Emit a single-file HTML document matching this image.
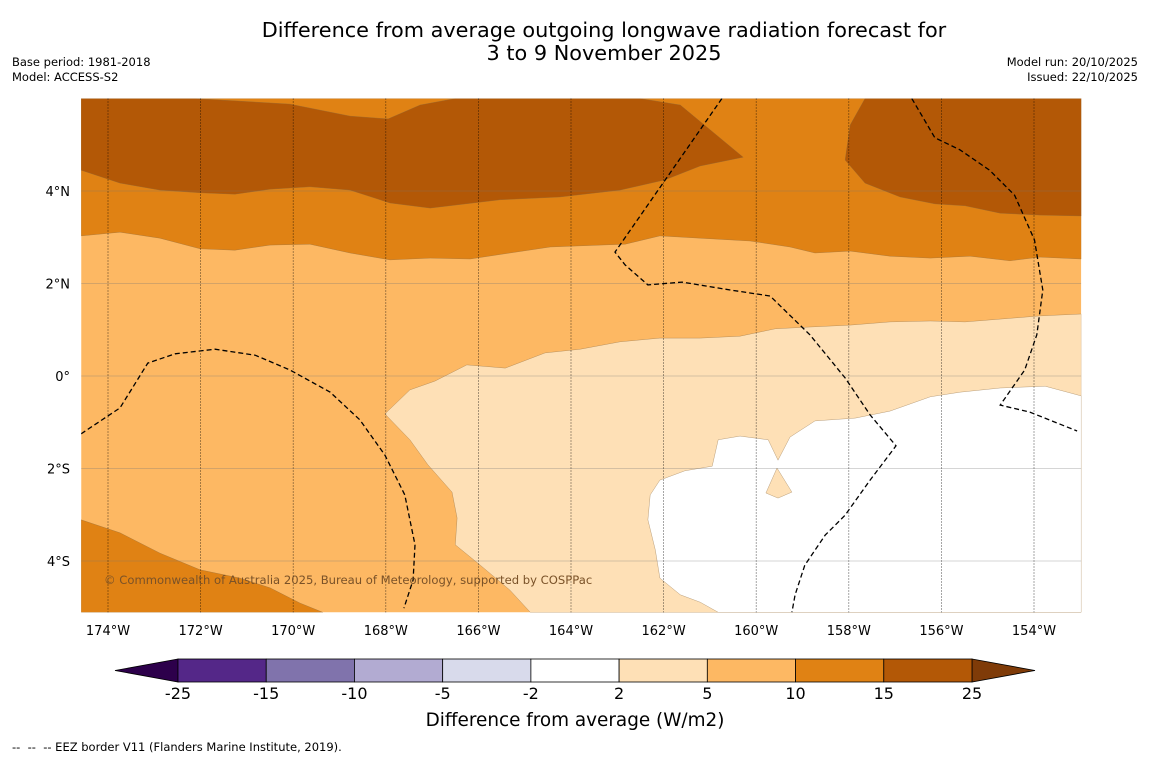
<!DOCTYPE html>
<html><head><meta charset="utf-8">
<style>
html,body{margin:0;padding:0;background:#fff;}
body{width:1150px;height:758px;position:relative;font-family:"Liberation Sans","DejaVu Sans",sans-serif;overflow:hidden;}
.t{position:absolute;color:#000;}
</style></head>
<body>
<div class="t" style="left:0;width:1208px;top:19px;text-align:center;font-size:20.8px;line-height:23px;font-family:'DejaVu Sans','Liberation Sans',sans-serif;">Difference from average outgoing longwave radiation forecast for<br>3 to 9 November 2025</div>
<div class="t" style="left:12px;top:55px;font-size:11.5px;line-height:15px;font-family:'DejaVu Sans',sans-serif;">Base period: 1981-2018<br>Model: ACCESS-S2</div>
<div class="t" style="right:12px;top:55px;font-size:11.5px;line-height:15px;text-align:right;font-family:'DejaVu Sans',sans-serif;">Model run: 20/10/2025<br>Issued: 22/10/2025</div>
<svg id="chart" width="1150" height="758" style="position:absolute;left:0;top:0;" xmlns="http://www.w3.org/2000/svg" font-family="DejaVu Sans, Liberation Sans, sans-serif"></svg>
<div class="t" style="left:12px;top:740px;font-size:11.5px;font-family:'DejaVu Sans',sans-serif;">--&nbsp; --&nbsp; -- EEZ border V11 (Flanders Marine Institute, 2019).</div>
<script>
const lonTicks=[-174,-172,-170,-168,-166,-164,-162,-160,-158,-156,-154];
const lonLabels=["174°W","172°W","170°W","168°W","166°W","164°W","162°W","160°W","158°W","156°W","154°W"];
const latTicks=[4,2,0,-2,-4];
const latLabels=["4°N","2°N","0°","2°S","4°S"];
const cbBounds=[-25,-15,-10,-5,-2,2,5,10,15,25];
const cbColors=["#542788","#8073ac","#b2abd2","#d8daeb","#ffffff","#fee0b6","#fdb863","#e08214","#b35806"];
const LON0=-174.58,LON1=-152.98,LAT0=-5.11,LAT1=6.0;
const orangeBand=[[-174.58,6.0],[-152.98,6.0],[-152.98,2.53],[-153.87,2.57],[-154.52,2.49],[-155.38,2.59],[-156.24,2.55],[-157.11,2.59],[-157.97,2.70],[-158.73,2.66],[-159.27,2.79],[-160.13,2.92],[-161.21,2.98],[-162.08,3.03],[-162.83,2.85],[-163.37,2.83],[-164.45,2.79],[-165.32,2.66],[-166.18,2.53],[-167.04,2.55],[-167.91,2.51],[-168.77,2.66],[-169.64,2.85],[-170.50,2.83],[-171.26,2.72],[-172.01,2.75],[-172.88,2.98],[-173.74,3.11],[-174.58,3.03]];
const darkLeft=[[-174.58,6.0],[-172.12,6.0],[-170.07,5.88],[-168.77,5.62],[-167.95,5.56],[-167.26,5.86],[-166.50,6.0],[-162.51,6.0],[-161.64,5.86],[-160.28,4.73],[-161.21,4.54],[-161.97,4.24],[-162.94,4.02],[-164.24,3.87],[-165.53,3.81],[-167.04,3.63],[-167.91,3.74],[-168.77,4.02],[-169.64,4.09],[-170.50,4.04],[-171.26,3.93],[-172.01,3.96],[-172.88,4.02],[-173.74,4.17],[-174.58,4.45]];
const darkRight=[[-157.65,6.0],[-157.97,5.43],[-158.08,4.67],[-157.65,4.17],[-156.89,3.87],[-156.14,3.72],[-155.49,3.68],[-154.73,3.52],[-153.87,3.48],[-152.98,3.46],[-152.98,6.0]];
const orangeSW=[[-174.58,-3.11],[-173.74,-3.39],[-172.88,-3.83],[-172.01,-4.19],[-171.15,-4.37],[-170.50,-4.58],[-169.85,-4.91],[-169.36,-5.11],[-174.58,-5.11]];
const lightRegion=[[-152.98,1.34],[-153.87,1.30],[-154.73,1.23],[-155.49,1.17],[-156.24,1.19],[-157.11,1.17],[-157.97,1.10],[-158.84,1.06],[-159.59,1.02],[-160.35,0.86],[-161.21,0.82],[-162.08,0.82],[-162.94,0.74],[-163.80,0.58],[-164.56,0.50],[-165.42,0.17],[-166.25,0.24],[-166.94,-0.11],[-167.48,-0.30],[-168.02,-0.82],[-167.48,-1.38],[-167.09,-1.92],[-166.57,-2.51],[-166.46,-3.07],[-166.50,-3.65],[-165.96,-4.09],[-165.32,-4.63],[-164.88,-5.11],[-152.98,-5.11]];
const whiteRegion=[[-152.98,-0.43],[-153.76,-0.22],[-154.73,-0.26],[-155.60,-0.35],[-156.24,-0.45],[-157.11,-0.76],[-157.86,-0.91],[-158.73,-0.97],[-159.27,-1.32],[-159.53,-1.82],[-159.74,-1.38],[-160.35,-1.30],[-160.82,-1.38],[-160.95,-1.95],[-161.54,-2.05],[-162.08,-2.25],[-162.29,-2.57],[-162.34,-3.11],[-162.18,-3.76],[-162.08,-4.37],[-161.64,-4.73],[-161.21,-4.89],[-160.82,-5.11],[-152.98,-5.11]];
const lightTriangle=[[-159.55,-1.99],[-159.23,-2.51],[-159.53,-2.64],[-159.79,-2.53]];
const eez1=[[-160.74,6.0],[-163.05,2.68],[-162.83,2.40],[-162.34,1.97],[-161.60,2.03],[-160.56,1.86],[-159.70,1.73],[-158.84,0.89],[-158.08,-0.04],[-157.54,-0.84],[-156.98,-1.51],[-157.54,-2.25],[-158.08,-3.01],[-158.51,-3.44],[-158.95,-4.09],[-159.16,-4.73],[-159.23,-5.11]];
const eez2=[[-156.64,6.0],[-156.14,5.15],[-155.60,4.89],[-154.96,4.45],[-154.42,3.91],[-153.99,2.94],[-153.81,1.86],[-153.94,0.89],[-154.20,0.13],[-154.73,-0.63],[-154.09,-0.78],[-153.07,-1.19]];
const eez3=[[-174.58,-1.25],[-173.74,-0.69],[-173.14,0.28],[-172.55,0.48],[-171.69,0.58],[-170.82,0.45],[-170.07,0.13],[-169.20,-0.35],[-168.56,-0.95],[-168.02,-1.71],[-167.59,-2.57],[-167.37,-3.65],[-167.41,-4.41],[-167.61,-5.02]];

const NS="http://www.w3.org/2000/svg";
const svg=document.getElementById('chart');
function xS(lon){return 108+(lon+174)*46.3;}
function yS(lat){return 376-lat*46.25;}
function mk(tag,attrs,parent){const e=document.createElementNS(NS,tag);for(const k in attrs)e.setAttribute(k,attrs[k]);(parent||svg).appendChild(e);return e;}
function pts(a){return a.map(p=>xS(p[0]).toFixed(1)+','+yS(p[1]).toFixed(1)).join(' ');}
const defs=mk('defs',{});
const cp=mk('clipPath',{id:'mapclip'},defs);
mk('rect',{x:xS(LON0),y:yS(LAT1),width:xS(LON1)-xS(LON0),height:yS(LAT0)-yS(LAT1)},cp);
const g=mk('g',{'clip-path':'url(#mapclip)'});
const bg=mk('rect',{x:xS(LON0),y:yS(LAT1),width:xS(LON1)-xS(LON0),height:yS(LAT0)-yS(LAT1),fill:'#fdb863'},g);


const layers=[[orangeBand,'#e08214','band-10-15-north'],[darkLeft,'#b35806','band-15-25-northwest'],[darkRight,'#b35806','band-15-25-northeast'],[orangeSW,'#e08214','band-10-15-southwest'],[lightRegion,'#fee0b6','band-2-5'],[whiteRegion,'#ffffff','band-neutral'],[lightTriangle,'#fee0b6','band-2-5-patch']];
layers.forEach(L=>{const p=mk('polygon',{points:pts(L[0]),fill:L[1],stroke:'#8a6a40','stroke-width':0.3},g);

});
latTicks.forEach((lat,i)=>{const l=mk('line',{x1:xS(LON0),x2:xS(LON1),y1:yS(lat),y2:yS(lat),stroke:'#777','stroke-width':0.6,'stroke-opacity':0.6},g);


const t=mk('text',{x:70,y:yS(lat)+5,'text-anchor':'end','font-size':13});t.textContent=latLabels[i];

});
lonTicks.forEach((lon,i)=>{const l=mk('line',{x1:xS(lon),x2:xS(lon),y1:yS(LAT1),y2:yS(LAT0),stroke:'#000','stroke-width':0.7,'stroke-dasharray':'1,2'},g);


const t=mk('text',{x:xS(lon),y:635,'text-anchor':'middle','font-size':13});t.textContent=lonLabels[i];

});
[eez1,eez2,eez3].forEach(a=>{const p=mk('polyline',{points:pts(a),fill:'none',stroke:'#000','stroke-width':1.3,'stroke-dasharray':'5,3'},g);

});
const cr=mk('text',{x:104,y:584,'font-size':11.6,fill:'#7a5228'});cr.textContent='© Commonwealth of Australia 2025, Bureau of Meteorology, supported by COSPPac';


const cbX0=178,cbX1=972,cbY=659,cbH=23;
function cS(i){return cbX0+i*(cbX1-cbX0)/(cbBounds.length-1);}
const lt=mk('polygon',{points:`${cbX0},${cbY} 115,${cbY+cbH/2} ${cbX0},${cbY+cbH}`,fill:'#2d004b',stroke:'#000','stroke-width':0.8});


const rt=mk('polygon',{points:`${cbX1},${cbY} 1035,${cbY+cbH/2} ${cbX1},${cbY+cbH}`,fill:'#7f3b08',stroke:'#000','stroke-width':0.8});


cbColors.forEach((c,i)=>{const r=mk('rect',{x:cS(i),y:cbY,width:cS(i+1)-cS(i),height:cbH,fill:c,stroke:'#000','stroke-width':0.8});

});
cbBounds.forEach((b,i)=>{const t=mk('text',{x:cS(i),y:699,'text-anchor':'middle','font-size':16});t.textContent=String(b);

});
const ct=mk('text',{x:575,y:726,'text-anchor':'middle','font-size':18.4});ct.textContent='Difference from average (W/m2)';


</script>
</body></html>
